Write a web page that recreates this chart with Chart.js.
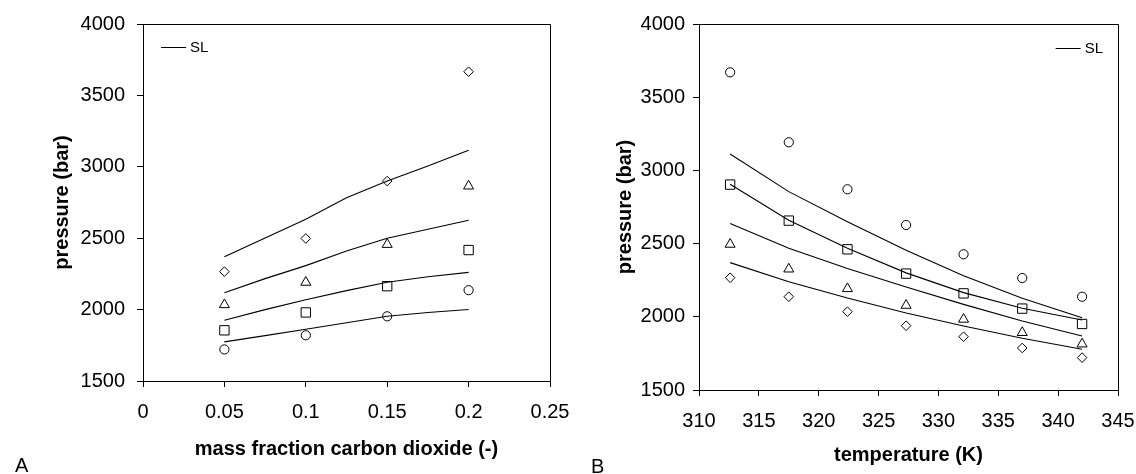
<!DOCTYPE html>
<html>
<head>
<meta charset="utf-8">
<script src="https://cdn.jsdelivr.net/npm/chart.js@4"></script>
<style>
  body { margin: 0; background: #fff; }
  #wrap { position: relative; width: 1136px; height: 474px; overflow: hidden; }
  canvas { position: absolute; top: 0; }
  .panel { position: absolute; font: 20px "Liberation Sans", Arial, sans-serif; line-height: 20px; color: #000; }
</style>
</head>
<body>
<div id="wrap">
  <canvas id="chartA" width="575" height="474" style="left:0"></canvas>
  <canvas id="chartB" width="576" height="474" style="left:560px"></canvas>
  <div class="panel" style="left:15px; top:455px">A</div>
  <div class="panel" style="left:591px; top:456px">B</div>
</div>
<script>
// ---- panel A: pressure vs mass fraction CO2 (one marker type per temperature)
const fracA = [0.05, 0.1, 0.15, 0.2];
const diamondsA  = [2266, 2498, 2900, 3666];
const trianglesA = [2034, 2191, 2456, 2865];
const squaresA   = [1855, 1980, 2164, 2417];
const circlesA   = [1721, 1820, 1953, 2136];

// SL model curves for panel A
const fracLineA = [0.05, 0.075, 0.1, 0.125, 0.15, 0.175, 0.2];
const slA1 = [2370, 2501, 2633, 2783, 2900, 3005, 3116];
const slA2 = [2118, 2217, 2308, 2410, 2500, 2563, 2626];
const slA3 = [1925, 2000, 2069, 2133, 2191, 2230, 2261];
const slA4 = [1774, 1818, 1862, 1908, 1953, 1980, 2001];

// ---- panel B: pressure vs temperature (one marker type per composition)
const tempB = [312.6, 317.5, 322.4, 327.3, 332.1, 337.0, 342.0];
const circlesB   = [3670, 3192, 2871, 2627, 2427, 2265, 2137];
const squaresB   = [2903, 2657, 2461, 2295, 2160, 2056, 1951];
const trianglesB = [2495, 2326, 2192, 2078, 1983, 1892, 1814];
const diamondsB  = [2267, 2137, 2035, 1939, 1864, 1787, 1721];

const slB1 = [3112, 2855, 2650, 2455, 2280, 2126, 1994];
const slB2 = [2905, 2660, 2468, 2300, 2165, 2058, 1978];
const slB3 = [2638, 2468, 2330, 2203, 2085, 1971, 1869];
const slB4 = [2370, 2240, 2128, 2026, 1937, 1853, 1778];

// tick labels
const xTicksA = ['0', '0.05', '0.1', '0.15', '0.2', '0.25'];
const xTicksB = ['310', '315', '320', '325', '330', '335', '340', '345'];
const yTicks  = ['1500', '2000', '2500', '3000', '3500', '4000'];

Chart.defaults.font.family = '"Liberation Sans", Arial, sans-serif';
Chart.defaults.color = '#000';

function toXY(xs, ys) {
  return xs.map((x, i) => ({ x: x, y: ys[i] }));
}

// open marker dataset
function markers(xs, ys, style, r) {
  return {
    data: toXY(xs, ys),
    showLine: false,
    pointStyle: style,
    pointRadius: r,
    pointBorderWidth: 1,
    pointBorderColor: '#000',
    pointBackgroundColor: 'rgba(0,0,0,0)'
  };
}

// model line, no points
function slLine(xs, ys) {
  return {
    data: toXY(xs, ys),
    showLine: true,
    borderColor: '#000',
    borderWidth: 1.1,
    pointRadius: 0,
    tension: 0
  };
}

// top + right edges of the box
const frame = {
  id: 'frame',
  afterDraw(chart) {
    const { ctx, chartArea: a } = chart;
    ctx.save();
    ctx.strokeStyle = '#000';
    ctx.lineWidth = 1;
    ctx.beginPath();
    ctx.moveTo(a.left, a.top + 0.5);
    ctx.lineTo(a.right + 0.5, a.top + 0.5);
    ctx.lineTo(a.right + 0.5, a.bottom);
    ctx.stroke();
    ctx.restore();
  }
};

// small "—— SL" legend inside the plot
const slLegend = {
  id: 'slLegend',
  afterDraw(chart, args, opts) {
    const { ctx, chartArea: a } = chart;
    ctx.save();
    ctx.font = '15px "Liberation Sans", Arial, sans-serif';
    const tw = ctx.measureText(opts.text).width;
    const x0 = opts.side === 'right' ? a.right - opts.dx - tw - 4 - 25 : a.left + opts.dx;
    const y = Math.round(a.top + opts.dy);
    ctx.strokeStyle = '#000';
    ctx.lineWidth = 1;
    ctx.beginPath();
    ctx.moveTo(x0, y + 0.5);
    ctx.lineTo(x0 + 25, y + 0.5);
    ctx.stroke();
    ctx.fillStyle = '#000';
    ctx.textBaseline = 'middle';
    ctx.fillText(opts.text, x0 + 29, y + 1);
    ctx.restore();
  }
};

function makeChart(id, p) {
  return new Chart(document.getElementById(id), {
    type: 'scatter',
    data: { datasets: p.datasets },
    options: {
      responsive: false,
      animation: false,
      devicePixelRatio: 1,
      layout: { padding: p.padding },
      plugins: {
        legend: { display: false },
        tooltip: { enabled: false },
        slLegend: p.legend
      },
      scales: {
        x: {
          type: 'linear',
          min: p.xMin, max: p.xMax,
          afterFit: s => { s.height = p.xHeight; s.paddingLeft = 0; s.paddingRight = 0; },
          afterBuildTicks: s => { s.ticks = p.xTickVals.map(v => ({ value: v })); },
          ticks: {
            font: { size: 20 },
            padding: 13,
            maxRotation: 0,
            autoSkip: false,
            callback: (v, i) => p.xLabels[i]
          },
          grid: { drawOnChartArea: false, drawTicks: true, tickLength: 6, color: '#000' },
          border: { display: true, color: '#000', width: 1 },
          title: { display: true, text: p.xTitle, font: { size: 20, weight: 'bold' }, padding: { top: 0, bottom: p.xTitlePad } }
        },
        y: {
          type: 'linear',
          min: 1500, max: 4000,
          afterFit: s => { s.width = p.yWidth; },
          afterBuildTicks: s => { s.ticks = [1500, 2000, 2500, 3000, 3500, 4000].map(v => ({ value: v })); },
          ticks: {
            font: { size: 20 },
            padding: p.yTickPad,
            callback: (v, i) => yTicks[i]
          },
          grid: { drawOnChartArea: false, drawTicks: true, tickLength: 6, color: '#000' },
          border: { display: true, color: '#000', width: 1 },
          title: { display: true, text: 'pressure (bar)', font: { size: 20, weight: 'bold' }, padding: { top: p.yTitlePad, bottom: 0 } }
        }
      }
    },
    plugins: [frame, slLegend]
  });
}

makeChart('chartA', {
  datasets: [
    slLine(fracLineA, slA1), slLine(fracLineA, slA2), slLine(fracLineA, slA3), slLine(fracLineA, slA4),
    markers(fracA, diamondsA, 'rectRot', 4.8),
    markers(fracA, trianglesA, 'triangle', 5.8),
    markers(fracA, squaresA, 'rect', 6.6),
    markers(fracA, circlesA, 'circle', 4.6)
  ],
  padding: { left: 0, top: 22, right: 25, bottom: 0 },
  xMin: 0, xMax: 0.25,
  xTickVals: [0, 0.05, 0.1, 0.15, 0.2, 0.25],
  xLabels: xTicksA,
  xHeight: 93, yWidth: 143,
  yTickPad: 12, yTitlePad: 50, xTitlePad: 13,
  xTitle: 'mass fraction carbon dioxide (-)',
  legend: { text: 'SL', side: 'left', dx: 18, dy: 23 }
});

makeChart('chartB', {
  datasets: [
    slLine(tempB, slB1), slLine(tempB, slB2), slLine(tempB, slB3), slLine(tempB, slB4),
    markers(tempB, circlesB, 'circle', 4.6),
    markers(tempB, squaresB, 'rect', 6.6),
    markers(tempB, trianglesB, 'triangle', 5.8),
    markers(tempB, diamondsB, 'rectRot', 4.8)
  ],
  padding: { left: 0, top: 24, right: 18, bottom: 0 },
  xMin: 310, xMax: 345,
  xTickVals: [310, 315, 320, 325, 330, 335, 340, 345],
  xLabels: xTicksB,
  xHeight: 84, yWidth: 139,
  yTickPad: 8, yTitlePad: 53, xTitlePad: 7,
  xTitle: 'temperature (K)',
  legend: { text: 'SL', side: 'right', dx: 15, dy: 24 }
});
</script>
</body>
</html>
